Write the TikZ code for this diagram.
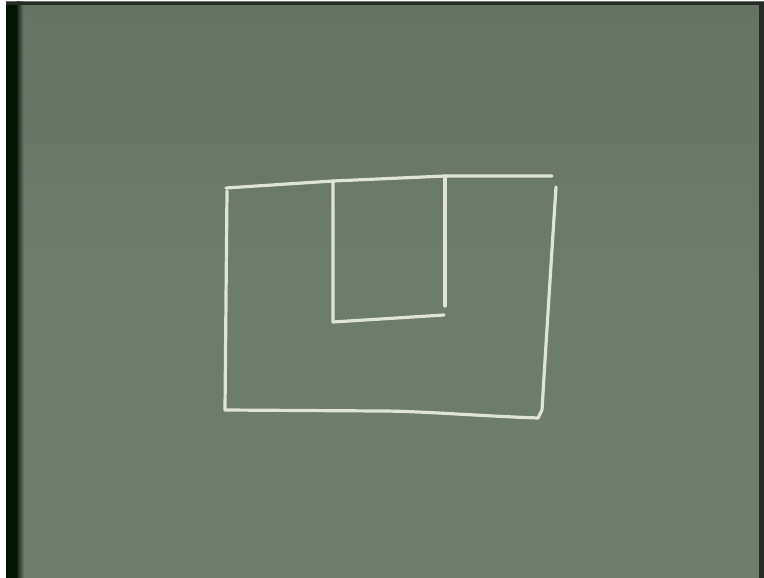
\documentclass[tikz,border=0pt]{standalone}
\definecolor{board}{RGB}{110,124,108}
\definecolor{boardtop}{RGB}{102,115,100}
\definecolor{chalk}{RGB}{222,228,214}
\tikzset{chalkline/.style={draw=chalk, line width=3.2pt, line cap=round, line join=round}}
\begin{document}
\begin{tikzpicture}[x=1pt,y=-1pt]
\useasboundingbox (0,0) rectangle (764,578);
\fill[white] (0,0) rectangle (764,578);
\shade[top color=boardtop, bottom color=board, middle color=board] (6,2) rectangle (764,578);
\fill[black!92!green] (6,2) rectangle (17,578);
\shade[left color=black!75!board, right color=board] (17,2) rectangle (24,578);
\fill[black!65!board] (6,2) rectangle (764,5);
\fill[black!65!board] (759,2) rectangle (764,578);
% named corner points of the chalk sketch
\coordinate (tl) at (226,188);
\coordinate (tm1) at (333,181);
\coordinate (tm2) at (445,176);
\coordinate (tr) at (552,176);
\coordinate (rt) at (556,187);
\coordinate (br) at (538,418);
\coordinate (bl) at (225,410);
\coordinate (ib1) at (333,322);
\coordinate (ib2) at (444,315);
\coordinate (ir) at (445,306);
% outer frame
\draw[chalkline] (tl) -- (tm1) -- (tm2) -- (tr);
\draw[chalkline] (rt) .. controls (550,280) and (545,360) .. (542,410) -- (br);
\draw[chalkline] (br) .. controls (480,416) and (420,411) .. (380,411) -- (bl);
\draw[chalkline] (227,191) -- (226,300) -- (bl);
% inner U
\draw[chalkline] (tm1) -- (ib1) -- (ib2);
\draw[chalkline] (tm2) -- (ir);
\end{tikzpicture}
\end{document}
